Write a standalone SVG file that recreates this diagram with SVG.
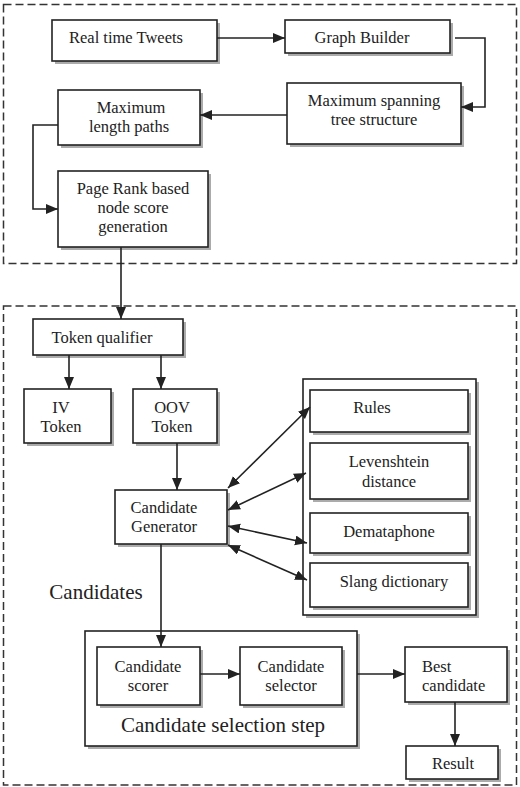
<svg xmlns="http://www.w3.org/2000/svg" width="520" height="787" viewBox="0 0 520 787">
<style>
.dash{fill:none;stroke:#333;stroke-width:1.5;stroke-dasharray:8 4}
.sh{fill:#ababab;stroke:none}
.bx{fill:#fff;stroke:#222;stroke-width:1.6}
.c{fill:none;stroke:#222;stroke-width:1.6}
text{font-family:"Liberation Serif","Times New Roman",serif;font-size:16.5px;fill:#222;text-anchor:middle}
.big{font-size:21px}
</style>
<defs>
<marker id="ah" markerUnits="userSpaceOnUse" markerWidth="13" markerHeight="11" refX="12" refY="5" orient="auto-start-reverse">
<path d="M0,0 L12,5 L0,10 Z" fill="#222"/>
</marker>
</defs>
<rect class="dash" x="3.5" y="4.5" width="513" height="259"/>
<rect class="dash" x="3.5" y="306" width="513" height="479"/>

<g id="n-tweets"><rect class="sh" x="55" y="23" width="165" height="41"/><rect class="bx" x="52" y="20" width="165" height="41"/><text x="126" y="43">Real time Tweets</text></g>
<g id="n-graph"><rect class="sh" x="288" y="23" width="165" height="33"/><rect class="bx" x="285" y="20" width="165" height="33"/><text x="362" y="43">Graph Builder</text></g>
<g id="n-mst"><rect class="sh" x="290" y="86" width="174" height="61"/><rect class="bx" x="287" y="83" width="174" height="61"/><text x="374" y="106">Maximum spanning</text><text x="374" y="125">tree structure</text></g>
<g id="n-maxlen"><rect class="sh" x="61" y="93" width="142" height="55"/><rect class="bx" x="58" y="90" width="142" height="55"/><text x="131" y="113">Maximum</text><text x="129" y="132">length paths</text></g>
<g id="n-pagerank"><rect class="sh" x="61" y="174" width="150" height="76"/><rect class="bx" x="58" y="171" width="150" height="76"/><text x="133" y="194">Page Rank based</text><text x="133" y="213">node score</text><text x="133" y="232">generation</text></g>

<g id="n-tq"><rect class="sh" x="36" y="322" width="150" height="36"/><rect class="bx" x="33" y="319" width="150" height="36"/><text x="102" y="343">Token qualifier</text></g>
<g id="n-iv"><rect class="sh" x="27" y="392" width="87" height="54"/><rect class="bx" x="24" y="389" width="87" height="54"/><text x="61" y="413">IV</text><text x="61" y="432">Token</text></g>
<g id="n-oov"><rect class="sh" x="136" y="392" width="84" height="54"/><rect class="bx" x="133" y="389" width="84" height="54"/><text x="172" y="413">OOV</text><text x="172" y="432">Token</text></g>
<g id="n-cg"><rect class="sh" x="118" y="493" width="112" height="54"/><rect class="bx" x="115" y="490" width="112" height="54"/><text x="164" y="513">Candidate</text><text x="164" y="532">Generator</text></g>

<g id="n-resources"><rect class="sh" x="306" y="382" width="173" height="236"/><rect class="bx" x="303" y="379" width="173" height="236"/></g>
<g id="n-rules"><rect class="sh" x="313" y="393" width="158" height="42"/><rect class="bx" x="310" y="390" width="158" height="42"/><text x="372" y="413">Rules</text></g>
<g id="n-lev"><rect class="sh" x="313" y="446" width="158" height="56"/><rect class="bx" x="310" y="443" width="158" height="56"/><text x="389" y="467">Levenshtein</text><text x="389" y="487">distance</text></g>
<g id="n-dema"><rect class="sh" x="313" y="516" width="158" height="40"/><rect class="bx" x="310" y="513" width="158" height="40"/><text x="389" y="537">Demataphone</text></g>
<g id="n-slang"><rect class="sh" x="313" y="566" width="158" height="44"/><rect class="bx" x="310" y="563" width="158" height="44"/><text x="394" y="587">Slang dictionary</text></g>

<text class="big" x="96" y="599">Candidates</text>

<g id="n-css"><rect class="sh" x="88" y="634" width="272" height="115"/><rect class="bx" x="85" y="631" width="272" height="115"/><text class="big" x="223" y="732">Candidate selection step</text></g>
<g id="n-scorer"><rect class="sh" x="100" y="650" width="103" height="58"/><rect class="bx" x="97" y="647" width="103" height="58"/><text x="148" y="672">Candidate</text><text x="148" y="691">scorer</text></g>
<g id="n-selector"><rect class="sh" x="243" y="650" width="102" height="58"/><rect class="bx" x="240" y="647" width="102" height="58"/><text x="291" y="672">Candidate</text><text x="291" y="691">selector</text></g>
<g id="n-best"><rect class="sh" x="408" y="650" width="102" height="55"/><rect class="bx" x="405" y="647" width="102" height="55"/><text x="422" y="672" style="text-anchor:start">Best</text><text x="422" y="691" style="text-anchor:start">candidate</text></g>
<g id="n-result"><rect class="sh" x="409" y="749" width="92" height="33"/><rect class="bx" x="406" y="746" width="92" height="33"/><text x="453" y="769">Result</text></g>

<g id="connectors">
<path class="c" d="M217,38 H285" marker-end="url(#ah)"/>
<path class="c" d="M455,38 H485 V107 H461" marker-end="url(#ah)"/>
<path class="c" d="M287,115 H200" marker-end="url(#ah)"/>
<path class="c" d="M58,125 H33 V209 H58" marker-end="url(#ah)"/>
<path class="c" d="M121,247 V319" marker-end="url(#ah)"/>
<path class="c" d="M69,355 V389" marker-end="url(#ah)"/>
<path class="c" d="M161,355 V389" marker-end="url(#ah)"/>
<path class="c" d="M177,443 V490" marker-end="url(#ah)"/>
<path class="c" d="M228,488 L310,407" marker-start="url(#ah)" marker-end="url(#ah)"/>
<path class="c" d="M228,510 L306,473" marker-start="url(#ah)" marker-end="url(#ah)"/>
<path class="c" d="M228,526 L307,543" marker-start="url(#ah)" marker-end="url(#ah)"/>
<path class="c" d="M228,545 L307,580" marker-start="url(#ah)" marker-end="url(#ah)"/>
<path class="c" d="M161,544 V647" marker-end="url(#ah)"/>
<path class="c" d="M200,674 H240" marker-end="url(#ah)"/>
<path class="c" d="M357,674 H405" marker-end="url(#ah)"/>
<path class="c" d="M455,702 V746" marker-end="url(#ah)"/>
</g>
</svg>
